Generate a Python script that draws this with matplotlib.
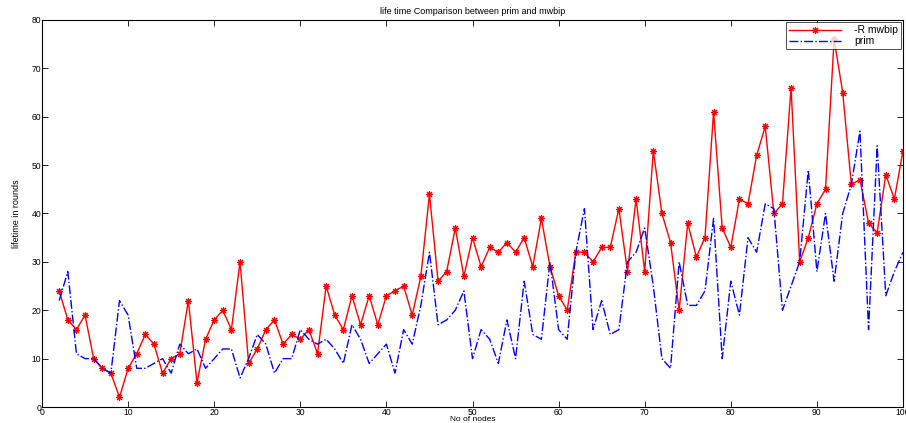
import matplotlib
matplotlib.use("Agg")
import matplotlib.pyplot as plt

plt.rcParams['font.family'] = ['Liberation Sans', 'DejaVu Sans']

nodes = list(range(2, 101))
mwbip = [24, 18, 16, 19, 10, 8, 7, 2, 8, 11, 15, 13, 7, 10, 11, 22, 5, 14, 18,
         20, 16, 30, 9, 12, 16, 18, 13, 15, 14, 16, 11, 25, 19, 16, 23, 17, 23, 17, 23,
         24, 25, 19, 27, 44, 26, 28, 37, 27, 35, 29, 33, 32, 34, 32, 35, 29, 39, 29, 23,
         20, 32, 32, 30, 33, 33, 41, 28, 43, 28, 53, 40, 34, 20, 38, 31, 35, 61, 37, 33,
         43, 42, 52, 58, 40, 42, 66, 30, 35, 42, 45, 76, 65, 46, 47, 38, 36, 48, 43, 53]
prim = [22, 28, 11, 10, 10, 8, 7, 22, 19, 8, 8, 9, 10, 7, 13, 11, 12, 8, 10,
        12, 12, 6, 10, 15, 13, 7, 10, 10, 16, 14, 13, 14, 12, 9, 17, 14, 9, 11, 13,
        7, 16, 13, 21, 32, 17, 18, 20, 24, 10, 16, 14, 9, 18, 10, 26, 15, 14, 30, 16,
        14, 32, 41, 16, 22, 15, 16, 30, 32, 37, 25, 10, 8, 30, 21, 21, 24, 39, 10, 26,
        19, 35, 32, 42, 41, 20, 25, 30, 49, 28, 40, 26, 40, 46, 57, 16, 54, 23, 28, 32]

title = "life time Comparison between prim and mwbip"
xlabel = "No of nodes"
ylabel = "lifetime in rounds"
legend_labels = ["-R mwbip", "prim"]

fig = plt.figure(figsize=(9.06, 4.23), dpi=100)
ax = fig.add_axes([42/906, 1 - 407/423, (903 - 42)/906, (407 - 20)/423])

ax.plot(nodes, mwbip, color='red', linestyle='-', linewidth=1.0,
        marker=(8, 2, 0), markersize=5, markeredgewidth=0.8, label=legend_labels[0])
ax.plot(nodes, prim, color='blue', linestyle='-.', linewidth=1.0,
        label=legend_labels[1])

ax.set_xlim(0, 100)
ax.set_ylim(0, 80)
ax.set_xticks(range(0, 101, 10))
ax.set_yticks(range(0, 81, 10))
ax.tick_params(direction='in', top=True, right=True, labelsize=6.2, length=4, width=0.6, pad=0.4)
for s in ax.spines.values():
    s.set_linewidth(0.8)

ax.set_title(title, fontsize=6.5, pad=4)
ax.set_xlabel(xlabel, fontsize=6)
ax.xaxis.label.set_va('bottom')
ax.xaxis.set_label_coords(0.5, -15.5 / 387)
ax.set_ylabel(ylabel, fontsize=6.5, labelpad=8)

leg = ax.legend(loc='upper right', fontsize=7.5, frameon=True, fancybox=False,
                edgecolor='black', borderpad=0.3, labelspacing=0.1,
                handlelength=5, borderaxespad=0.2, handletextpad=1.2)
leg.get_frame().set_linewidth(0.6)

fig.savefig("out.png", dpi=100)
